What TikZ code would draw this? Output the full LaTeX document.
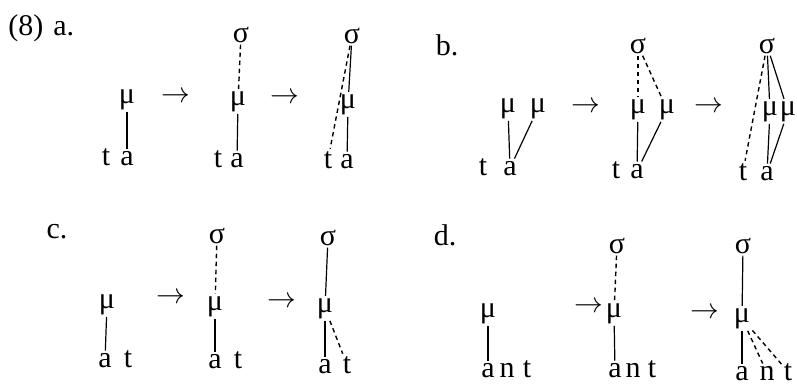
\documentclass[tikz,border=0pt]{standalone}
\usepackage{fontspec}
\setmainfont{Liberation Serif}
\usetikzlibrary{arrows.meta}

\begin{document}
\begin{tikzpicture}[x=0.5pt, y=-0.5pt, every node/.style={font=\fontsize{15}{17}\selectfont, inner sep=1pt}, seg/.style={anchor=base}, link/.style={line width=0.6pt}, dlink/.style={line width=0.7pt, dash pattern=on 2.2pt off 1.8pt}]
\useasboundingbox (0,0) rectangle (797,387);
\clip (0,0) rectangle (797,387);
% (8) a.
\node[anchor=base west] (labA) at (6,35) {(8)\hspace{5pt}a.};
\node[seg] (aMu1) at (127,103) {μ};
\node[seg] (aT1) at (106,165) {t};
\node[seg] (aA1) at (127,165) {a};
\node (aArr1) at (176,97) {$\rightarrow$};
\node[seg] (aSg2) at (241,42) {σ};
\node[seg] (aMu2) at (238,105) {μ};
\node[seg] (aT2) at (218,167) {t};
\node[seg] (aA2) at (237,167) {a};
\node (aArr2) at (285,98) {$\rightarrow$};
\node[seg] (aSg3) at (352,43) {σ};
\node[seg] (aMu3) at (348,108) {μ};
\node[seg] (aT3) at (328,168) {t};
\node[seg] (aA3) at (347,168) {a};
\draw[link] (aMu1) -- (aA1);
\draw[dlink] (aSg2) -- (aMu2);
\draw[link] (aMu2) -- (aA2);
\draw[link] (aSg3) -- (aMu3);
\draw[dlink] (aSg3) -- (aT3);
\draw[link] (aMu3) -- (aA3);
% b.
\node[seg] (labB) at (447,55) {b.};
\node[seg] (bMu1a) at (508,112) {μ};
\node[seg] (bMu1b) at (538,112) {μ};
\node[seg] (bT1) at (483,175) {t};
\node[seg] (bA1) at (510,175) {a};
\node (bArr1) at (586,107) {$\rightarrow$};
\node[seg] (bSg2) at (638,53) {σ};
\node[seg] (bMu2a) at (638,113) {μ};
\node[seg] (bMu2b) at (667,113) {μ};
\node[seg] (bT2) at (616,178) {t};
\node[seg] (bA2) at (637,178) {a};
\node (bArr2) at (709,107) {$\rightarrow$};
\node[seg] (bSg3) at (767,53) {σ};
\node[seg] (bMu3a) at (770,115) {μ};
\node[seg] (bMu3b) at (788,115) {μ};
\node[seg] (bT3) at (743,180) {t};
\node[seg] (bA3) at (767,180) {a};
\draw[link] (bMu1a) -- (bA1);
\draw[link] (bMu1b) -- (bA1);
\draw[dlink] (bSg2) -- (bMu2a);
\draw[dlink] (bSg2) -- (bMu2b);
\draw[link] (bMu2a) -- (bA2);
\draw[link] (bMu2b) -- (bA2);
\draw[link] (bSg3) -- (bMu3a);
\draw[link] (bSg3) -- (bMu3b);
\draw[dlink] (bSg3) -- (bT3);
\draw[link] (bMu3a) -- (bA3);
\draw[link] (bMu3b) -- (bA3);
% c.
\node[seg] (labC) at (57,238) {c.};
\node[seg] (cMu1) at (107,308) {μ};
\node[seg] (cA1) at (105,367) {a};
\node[seg] (cT1) at (128,367) {t};
\node (cArr1) at (171,298) {$\rightarrow$};
\node[seg] (cSg2) at (217,243) {σ};
\node[seg] (cMu2) at (215,310) {μ};
\node[seg] (cA2) at (215,368) {a};
\node[seg] (cT2) at (238,368) {t};
\node (cArr2) at (282,302) {$\rightarrow$};
\node[seg] (cSg3) at (328,245) {σ};
\node[seg] (cMu3) at (325,312) {μ};
\node[seg] (cA3) at (325,373) {a};
\node[seg] (cT3) at (347,373) {t};
\draw[link] (cMu1) -- (cA1);
\draw[dlink] (cSg2) -- (cMu2);
\draw[link] (cMu2) -- (cA2);
\draw[link] (cSg3) -- (cMu3);
\draw[link] (cMu3) -- (cA3);
\draw[dlink] (cMu3) -- (cT3);
% d.
\node[seg] (labD) at (445,245) {d.};
\node[seg] (dMu1) at (488,317) {μ};
\node[seg] (dA1) at (488,377) {a};
\node[seg] (dN1) at (507,377) {n};
\node[seg] (dT1) at (527,377) {t};
\node (dArr1) at (589,307) {$\rightarrow$};
\node[seg] (dSg2) at (617,253) {σ};
\node[seg] (dMu2) at (614,317) {μ};
\node[seg] (dA2) at (615,377) {a};
\node[seg] (dN2) at (633,377) {n};
\node[seg] (dT2) at (652,377) {t};
\node (dArr2) at (705,313) {$\rightarrow$};
\node[seg] (dSg3) at (743,253) {σ};
\node[seg] (dMu3) at (742,322) {μ};
\node[seg] (dA3) at (742,380) {a};
\node[seg] (dN3) at (767,380) {n};
\node[seg] (dT3) at (788,380) {t};
\draw[link] (dMu1) -- (dA1);
\draw[dlink] (dSg2) -- (dMu2);
\draw[link] (dMu2) -- (dA2);
\draw[link] (dSg3) -- (dMu3);
\draw[link] (dMu3) -- (dA3);
\draw[dlink] (dMu3) -- (dN3);
\draw[dlink] (dMu3) -- (dT3);
\end{tikzpicture}
\end{document}
